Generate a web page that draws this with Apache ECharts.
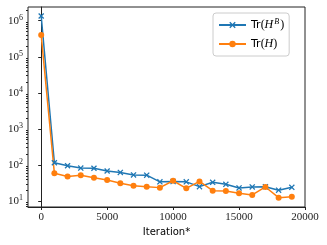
<!DOCTYPE html>
<html><head><meta charset="utf-8">
<script src="https://cdn.jsdelivr.net/npm/echarts@6/dist/echarts.min.js"></script>
<style>html,body{margin:0;padding:0;background:#fff}#c{width:327px;height:245px}</style>
</head><body><div id="c"></div>
<script>
const iterations = [0,1000,2000,3000,4000,5000,6000,7000,8000,9000,10000,11000,12000,13000,14000,15000,16000,17000,18000,19000];
const trHB = [1350000,115,95,82,81,68,62,53,52,34,34.5,34,25,33,29,23,24.5,25,20,24];
const trH = [400000,58.5,48,52,44,38,31,26.5,25,23.5,36.5,22.5,35,19.3,19,16.3,14.7,24.5,12.4,13.2];
const xTicks = [0,5000,10000,15000,20000];
const yTicks = [10,100,1000,10000,100000,1000000];
const yMinor = [];
for (let e = 0; e <= 6; e++) for (let m = 2; m <= 9; m++) yMinor.push(m * Math.pow(10, e));

const xSym = 'path://M0,1.5L1.5,0L5,3.5L8.5,0L10,1.5L6.5,5L10,8.5L8.5,10L5,6.5L1.5,10L0,8.5L3.5,5Z';
const serif = '"Liberation Serif","DejaVu Serif",serif';
const sans = '"DejaVu Sans",sans-serif';

const chart = echarts.init(document.getElementById('c'), null, {renderer: 'canvas'});
chart.setOption({
  animation: false,
  backgroundColor: '#fff',
  grid: {left: 28, right: 22, top: 7, bottom: 38, show: true, borderColor: '#222', borderWidth: 1, backgroundColor: 'transparent'},
  legend: {
    orient: 'vertical', left: 213, top: 13,
    padding: [5, 5, 5, 5], itemGap: 5, itemWidth: 27, itemHeight: 8,
    borderColor: '#ccc', borderWidth: 1, borderRadius: 3, backgroundColor: 'rgba(255,255,255,0.8)',
    data: ['HB', 'H'],
    formatter: function (n) {
      return n === 'HB' ? '{t|Tr}{p|(}{i|H}{s|B}{p|)}' : '{t|Tr}{p|(}{i|H}{p|)}';
    },
    textStyle: {
      color: '#000', lineHeight: 14,
      rich: {
        t: {fontFamily: sans, fontSize: 11, color: '#000', lineHeight: 14},
        p: {fontFamily: serif, fontSize: 12, color: '#000', lineHeight: 14},
        i: {fontFamily: serif, fontSize: 12, fontStyle: 'italic', color: '#000', lineHeight: 14},
        s: {fontFamily: serif, fontSize: 8, fontStyle: 'italic', color: '#000', verticalAlign: 'top', lineHeight: 14, padding: [0, 1, 0, 1]}
      }
    }
  },
  xAxis: {
    type: 'value', min: -1000, max: 20000,
    name: 'Iteration*', nameLocation: 'middle', nameGap: 20,
    nameTextStyle: {fontFamily: sans, fontSize: 10, color: '#000'},
    axisLine: {show: true, lineStyle: {color: '#222', width: 1}},
    axisTick: {show: true, length: 3, inside: false, customValues: xTicks, lineStyle: {color: '#222'}},
    axisLabel: {customValues: xTicks, margin: 5, fontFamily: serif, fontSize: 11, color: '#222',
      formatter: function (v) { return String(v); }},
    splitLine: {show: false}
  },
  yAxis: [{
    type: 'log', logBase: 10, min: 6.82, max: 2400000,
    axisLine: {show: true, lineStyle: {color: '#222', width: 1}},
    axisTick: {show: true, length: 3, customValues: yTicks, lineStyle: {color: '#222'}},
    axisLabel: {
      customValues: yTicks, margin: 5, color: '#222',
      formatter: function (v) { return '{b|10}{s|' + Math.round(Math.log10(v)) + '}'; },
      rich: {
        b: {fontFamily: serif, fontSize: 11, color: '#222', lineHeight: 14},
        s: {fontFamily: serif, fontSize: 8, color: '#222', verticalAlign: 'top', lineHeight: 14}
      }
    },
    splitLine: {show: false}
  }, {
    type: 'log', logBase: 10, min: 6.82, max: 2400000, position: 'left',
    axisLine: {show: false},
    axisTick: {show: true, length: 2, customValues: yMinor, lineStyle: {color: '#222'}},
    axisLabel: {show: false},
    splitLine: {show: false}
  }],
  series: [{
    name: 'HB', type: 'line', data: iterations.map((x, i) => [x, trHB[i]]),
    symbol: xSym, symbolSize: 6, showAllSymbol: true,
    lineStyle: {color: '#1f77b4', width: 1.5}, itemStyle: {color: '#1f77b4'}
  }, {
    name: 'H', type: 'line', data: iterations.map((x, i) => [x, trH[i]]),
    symbol: 'circle', symbolSize: 6, showAllSymbol: true,
    lineStyle: {color: '#ff7f0e', width: 1.5}, itemStyle: {color: '#ff7f0e'}
  }]
});
</script></body></html>
